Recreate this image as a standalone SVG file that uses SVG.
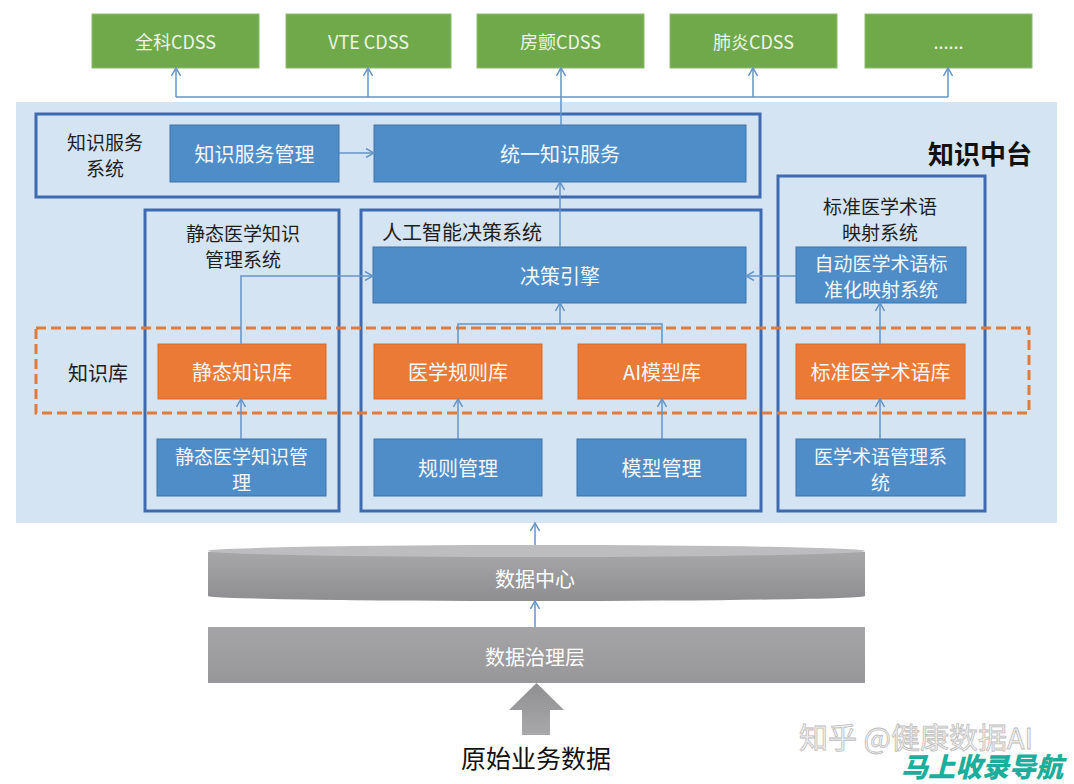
<svg xmlns="http://www.w3.org/2000/svg" width="1074" height="784" viewBox="0 0 1074 784">
<defs>
<style>
text{font-family:"Noto Sans CJK SC","Liberation Sans",sans-serif;text-anchor:middle;dominant-baseline:central}
.g{fill:#6FA94A;stroke:#8DBB6E;stroke-width:1}
.gt{fill:#EEF4E8;font-size:18px}
.b{fill:#4F8DC8;stroke:#3F73A8;stroke-width:1}
.o{fill:#EA7A35;stroke:#D86A28;stroke-width:1}
.wt{fill:#F4F8FC;font-size:20px}
.wt2{fill:#F4F8FC;font-size:19px}
.frame{fill:none;stroke:#3E6AB0;stroke-width:3}
.tt{fill:#1E1E1E;font-size:20px}
.tt2{fill:#1E1E1E;font-size:19px}
.c{fill:none;stroke:#6394C8;stroke-width:1.5}
.ca{fill:none;stroke:#6394C8;stroke-width:1.5;marker-end:url(#ah)}
.gw{fill:#FFFFFF;font-size:20px}
</style>
<marker id="ah" viewBox="0 0 10 10" refX="9" refY="5" markerWidth="10" markerHeight="10" markerUnits="userSpaceOnUse" orient="auto">
<path d="M1,0.5 L9,5 L1,9.5" fill="none" stroke="#6394C8" stroke-width="1.5"/>
</marker>
<linearGradient id="grayBody" x1="0" y1="0" x2="0" y2="1">
<stop offset="0" stop-color="#A7A7A9"/>
<stop offset="1" stop-color="#8E8E90"/>
</linearGradient>
<linearGradient id="grayRect" x1="0" y1="0" x2="0" y2="1">
<stop offset="0" stop-color="#A5A5A7"/>
<stop offset="1" stop-color="#97979A"/>
</linearGradient>
<linearGradient id="grayArrow" x1="0" y1="0" x2="0" y2="1">
<stop offset="0" stop-color="#8F8F91"/>
<stop offset="1" stop-color="#A9A9AB"/>
</linearGradient>
</defs>
<rect width="1074" height="784" fill="#FFFFFF"/>

<g id="knowledge-platform-bg">
<rect x="16" y="102" width="1041" height="421" fill="#D5E4F2"/>
<text x="980" y="152" style="font-size:26px;font-weight:bold;fill:#111">知识中台</text>
</g>

<g id="cdss-1"><rect class="g" x="92" y="14" width="167" height="54"/><text class="gt" x="175.5" y="41">全科CDSS</text></g>
<g id="cdss-2"><rect class="g" x="286" y="14" width="165" height="54"/><text class="gt" x="368.5" y="41">VTE CDSS</text></g>
<g id="cdss-3"><rect class="g" x="477" y="14" width="167" height="54"/><text class="gt" x="560.5" y="41">房颤CDSS</text></g>
<g id="cdss-4"><rect class="g" x="670" y="14" width="167" height="54"/><text class="gt" x="753.5" y="41">肺炎CDSS</text></g>
<g id="cdss-5"><rect class="g" x="865" y="14" width="167" height="54"/><text class="gt" x="948.5" y="41">......</text></g>

<g id="knowledge-service-system">
<rect class="frame" x="36" y="114" width="724" height="83"/>
<text class="tt2" x="105" y="141">知识服务</text>
<text class="tt2" x="105" y="167">系统</text>
</g>
<g id="knowledge-service-mgmt"><rect class="b" x="170" y="125" width="169" height="57"/><text class="wt" x="254.5" y="153.5">知识服务管理</text></g>
<g id="unified-knowledge-service"><rect class="b" x="374" y="125" width="372" height="57"/><text class="wt" x="560" y="153.5">统一知识服务</text></g>

<g id="static-knowledge-system">
<rect class="frame" x="145" y="210" width="194" height="301"/>
<text class="tt2" x="243" y="232">静态医学知识</text>
<text class="tt2" x="243" y="258">管理系统</text>
</g>
<g id="ai-decision-system">
<rect class="frame" x="361" y="210" width="400" height="301"/>
<text class="tt" x="462" y="231">人工智能决策系统</text>
</g>
<g id="term-mapping-system">
<rect class="frame" x="778" y="176" width="207" height="335"/>
<text class="tt2" x="880" y="205">标准医学术语</text>
<text class="tt2" x="880" y="231">映射系统</text>
</g>

<g id="knowledge-base">
<rect x="36" y="328" width="993" height="85" fill="none" stroke="#E07B3C" stroke-width="3" stroke-dasharray="10,5"/>
<text class="tt" x="98" y="372">知识库</text>
</g>

<g id="decision-engine"><rect class="b" x="373" y="247" width="373" height="56"/><text class="wt" x="560" y="275">决策引擎</text></g>
<g id="auto-term-mapping"><rect class="b" x="796" y="247" width="170" height="56"/><text class="wt2" x="881" y="262">自动医学术语标</text><text class="wt2" x="881" y="288">准化映射系统</text></g>

<g id="static-kb"><rect class="o" x="158" y="344" width="168" height="55"/><text class="wt" x="242" y="371.5">静态知识库</text></g>
<g id="rule-kb"><rect class="o" x="374" y="344" width="168" height="55"/><text class="wt" x="458" y="371.5">医学规则库</text></g>
<g id="ai-model-kb"><rect class="o" x="578" y="344" width="168" height="55"/><text class="wt" x="662" y="371.5">AI模型库</text></g>
<g id="std-term-kb"><rect class="o" x="796" y="344" width="169" height="55"/><text class="wt" x="880.5" y="371.5">标准医学术语库</text></g>

<g id="static-knowledge-mgmt"><rect class="b" x="157" y="439" width="169" height="57"/><text class="wt2" x="241.5" y="455">静态医学知识管</text><text class="wt2" x="241.5" y="481">理</text></g>
<g id="rule-mgmt"><rect class="b" x="374" y="439" width="168" height="57"/><text class="wt" x="458" y="467.5">规则管理</text></g>
<g id="model-mgmt"><rect class="b" x="577" y="439" width="169" height="57"/><text class="wt" x="661.5" y="467.5">模型管理</text></g>
<g id="term-mgmt-system"><rect class="b" x="796" y="439" width="169" height="57"/><text class="wt2" x="880.5" y="455">医学术语管理系</text><text class="wt2" x="880.5" y="481">统</text></g>

<g id="data-center">
<path d="M208,552 L208,596 A328.5,5 0 0 0 865,596 L865,552 Z" fill="url(#grayBody)"/>
<ellipse cx="536.5" cy="551" rx="328.5" ry="6" fill="#BDBDBF"/>
<text class="gw" x="535" y="578">数据中心</text>
</g>
<g id="data-governance">
<rect x="208" y="627" width="657" height="56" fill="url(#grayRect)"/>
<text class="gw" x="535" y="656">数据治理层</text>
</g>
<g id="raw-data">
<polygon points="536.5,683 564,710 550,710 550,735 522,735 522,710 509,710" fill="url(#grayArrow)"/>
<text x="536" y="757" style="font-size:25px;fill:#111">原始业务数据</text>
</g>

<g id="connectors">
<path class="c" d="M176,97 L948,97"/>
<path class="ca" d="M176,97 L176,68"/>
<path class="ca" d="M368,97 L368,68"/>
<path class="ca" d="M561,125 L561,68"/>
<path class="ca" d="M753,97 L753,68"/>
<path class="ca" d="M948,97 L948,68"/>
<path class="ca" d="M339,153 L374,153"/>
<path class="ca" d="M560,247 L560,182"/>
<path class="ca" d="M241,344 L241,276 L373,276"/>
<path class="ca" d="M796,276 L746,276"/>
<path class="c" d="M458,344 L458,324 L662,324 L662,344"/>
<path class="ca" d="M560,324 L560,303"/>
<path class="ca" d="M241,439 L241,399"/>
<path class="ca" d="M458,439 L458,399"/>
<path class="ca" d="M662,439 L662,399"/>
<path class="ca" d="M880,439 L880,399"/>
<path class="ca" d="M880,344 L880,303"/>
<path class="ca" d="M535,545 L535,523"/>
<path class="ca" d="M535,627 L535,601"/>
</g>

<g id="watermark">
<text x="916" y="736" style="font-size:29px;fill:#F2F2F2;stroke:#BDBDBD;stroke-width:0.8">知乎 @健康数据AI</text>
<text x="982" y="765" style="font-size:27px;font-weight:900;font-style:italic;fill:#1BAE9B">马上收录导航</text>
</g>
</svg>
